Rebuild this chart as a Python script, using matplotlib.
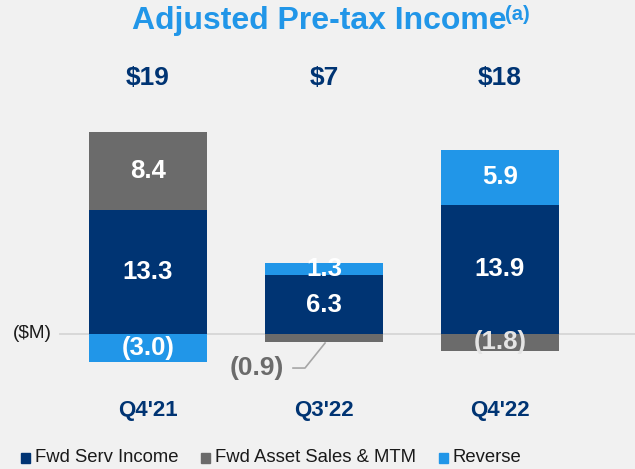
import numpy as np
import matplotlib.pyplot as plt

plt.rcParams['font.family'] = ['Liberation Sans', 'DejaVu Sans']

# Data
quarters = ["Q4'21", "Q3'22", "Q4'22"]
totals = ["$19", "$7", "$18"]
fwd_serv = [13.3, 6.3, 13.9]
fwd_asset = [8.4, -0.9, -1.8]
reverse = [-3.0, 1.3, 5.9]
series_names = ["Fwd Serv Income", "Fwd Asset Sales & MTM", "Reverse"]

navy = '#003473'
grey = '#6b6b6b'
blue = '#2196e8'
bg = '#f1f1f1'

fig = plt.figure(figsize=(6.35, 4.69), dpi=100, facecolor=bg)
ax = fig.add_axes([0, 0, 1, 1], facecolor=bg)

# pixel mapping: centers at 148/324/500 px, zero at 334 px from top, ~9.3 px per $M
ppx = 176.0
ppy = 9.3
ax.set_xlim(-148 / ppx, (635 - 148) / ppx)
ax.set_ylim(-(469 - 334) / ppy, 334 / ppy)
ax.axis('off')

x = np.arange(len(quarters))
w = 0.67

# zero line
ax.plot([-88 / ppx, 2.77], [0, 0], color='#d6d6d6', lw=1.3, zorder=1)

colors = [navy, grey, blue]
series = [fwd_serv, fwd_asset, reverse]
for i in range(len(quarters)):
    pos = 0.0
    neg = 0.0
    for s, c in zip(series, colors):
        v = s[i]
        if v >= 0:
            ax.bar(x[i], v, w, bottom=pos, color=c, zorder=2)
            mid = pos + v / 2
            pos += v
        else:
            ax.bar(x[i], v, w, bottom=neg, color=c, zorder=2)
            mid = neg + v / 2
            neg += v
        txt = f"{abs(v):.1f}" if v >= 0 else f"({abs(v):.1f})"
        if abs(v) < 1.0:
            # small segment: label outside with leader line
            ax.text(x[i] - 0.227, -3.66, txt, color=grey, fontsize=19,
                    fontweight='bold', ha='right', va='center', zorder=3)
            ax.plot([x[i] - 0.176, x[i] - 0.108, x[i] + 0.006],
                    [-3.66, -3.66, -0.97], color='#a6a6a6', lw=1.2, zorder=3)
        else:
            col = 'white' if not (c == grey and v < 0) else '#e4e4e4'
            ax.text(x[i], mid, txt, color=col, fontsize=18.5, fontweight='bold',
                    ha='center', va='center', zorder=3)
    ax.text(x[i], (334 - 78) / ppy, totals[i], color=navy, fontsize=19,
            fontweight='bold', ha='center', va='center')
    ax.text(x[i], (334 - 410) / ppy, quarters[i], color=navy, fontsize=16,
            fontweight='bold', ha='center', va='center')

ax.text((32 - 148) / ppx, 0, '($M)', fontsize=13.7,
        color='#1a1a1a', ha='center', va='center')

# title
fig.text(132 / 635, 1 - 21 / 469, 'Adjusted Pre-tax Income',
         color='#2196e8', fontsize=23, fontweight='bold', ha='left', va='center')
fig.text(505 / 635, 1 - 14 / 469, '(a)',
         color='#2196e8', fontsize=14.5, fontweight='bold', ha='left', va='center')

# legend
leg_sq = [21, 201, 439]
leg_tx = [35, 215, 453]
for lx, tx, name, c in zip(leg_sq, leg_tx, series_names, colors):
    fig.patches.append(plt.Rectangle((lx / 635, 1 - 463 / 469), 9 / 635, 10 / 469,
                                     color=c, transform=fig.transFigure, figure=fig))
    fig.text(tx / 635, 1 - 457 / 469, name, fontsize=13.3,
             color='#1a1a1a', ha='left', va='center')

fig.savefig('out.png', dpi=100, facecolor=bg)
